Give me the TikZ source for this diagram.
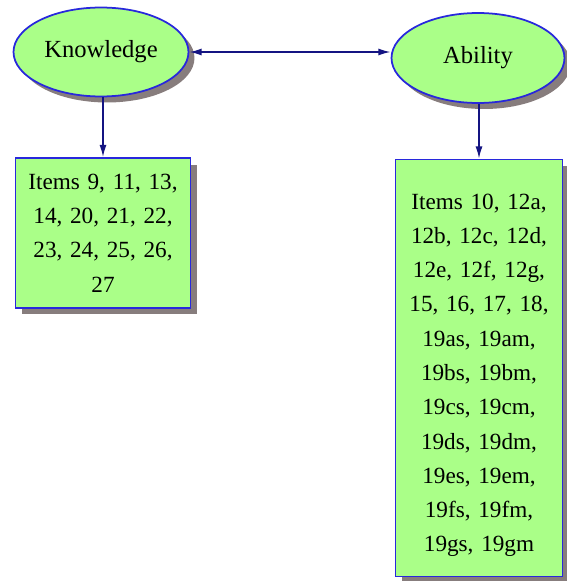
\documentclass[tikz,border=0pt]{standalone}
\usepackage{fontspec}
\setmainfont{Liberation Serif}
\usepackage{xcolor}
\usepackage{tikz}
\usetikzlibrary{shapes.geometric, shadows, arrows.meta}

\definecolor{nodegreen}{RGB}{170,255,136}
\definecolor{nodeblue}{RGB}{40,40,220}
\definecolor{linknavy}{RGB}{20,20,130}
\definecolor{shadowgray}{RGB}{135,125,125}

\begin{document}
\begin{tikzpicture}[x=0.02cm, y=-0.02cm,
    concept/.style={ellipse, draw=nodeblue, line width=1pt, fill=nodegreen,
        drop shadow={shadow xshift=0.12cm, shadow yshift=-0.12cm, fill=shadowgray, opacity=1},
        font=\fontsize{14}{19.4}\selectfont, inner sep=0pt},
    itembox/.style={rectangle, draw=nodeblue, line width=1pt, fill=nodegreen,
        drop shadow={shadow xshift=0.13cm, shadow yshift=-0.13cm, fill=shadowgray, opacity=1},
        font=\fontsize{13.2}{19.5}\selectfont, align=center, inner sep=0pt},
    link/.style={draw=linknavy, line width=0.9pt, -{Latex[length=7pt,width=4pt]}}]
    \useasboundingbox (0,0) rectangle (566,581);
    % concepts
    \node[concept, minimum width=3.5cm, minimum height=1.78cm] (kn) at (101,52) {Knowledge};
    \node[concept, minimum width=3.46cm, minimum height=1.8cm] (ab) at (478,58) {Ability};
    % item lists
    \node[itembox, minimum width=3.5cm, minimum height=3cm, text width=3.4cm] (knitems) at (103,233)
        {Items 9, 11, 13,\\ 14, 20, 21, 22,\\ 23, 24, 25, 26,\\ 27};
    \node[itembox, minimum width=3.34cm, minimum height=8.34cm, text width=3.2cm] (abitems) at (479,368)
        {\rule{0pt}{0.6cm}Items 10, 12a,\\ 12b, 12c, 12d,\\ 12e, 12f, 12g,\\ 15, 16, 17, 18,\\ 19as, 19am,\\ 19bs, 19bm,\\
         19cs, 19cm,\\ 19ds, 19dm,\\ 19es, 19em,\\ 19fs, 19fm,\\ 19gs, 19gm};
    % links
    \draw[link, {Latex[length=7pt,width=4pt]}-{Latex[length=7pt,width=4pt]}] (kn.east) -- (kn.east -| ab.west);
    \draw[link] (knitems.north |- kn.south) -- (knitems.north);
    \draw[link] (abitems.north |- ab.south) -- (abitems.north);
\end{tikzpicture}
\end{document}
